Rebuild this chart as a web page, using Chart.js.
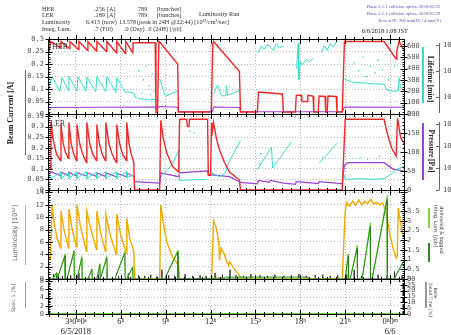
<!DOCTYPE html>
<html><head><meta charset="utf-8">
<script src="https://cdn.jsdelivr.net/npm/chart.js@4.4.1/dist/chart.umd.min.js"></script>
<style>
html,body{margin:0;padding:0;background:#fff;}
#wrap{position:relative;width:451px;height:335px;overflow:hidden;}
#c{position:absolute;left:0;top:0;}
.t{position:absolute;white-space:nowrap;font-family:'Liberation Serif','Times New Roman',serif;color:#333;line-height:1;font-size:6.2px;}
.rl{transform:translate(-50%,-50%) rotate(-90deg);}
.rr{transform:translate(-50%,-50%) rotate(90deg);}
.bar{position:absolute;width:1.5px;}
</style></head>
<body><div id="wrap"><canvas id="c" width="451" height="335"></canvas>
<div class="t" style="left:42px;top:6px">HER</div>
<div class="t" style="left:94px;top:6px">.256</div>
<div class="t" style="left:107px;top:6px">[A]</div>
<div class="t" style="left:138px;top:6px">789</div>
<div class="t" style="left:157px;top:6px">[bunches]</div>
<div class="t" style="left:42px;top:12px">LER</div>
<div class="t" style="left:94px;top:12px">.189</div>
<div class="t" style="left:107px;top:12px">[A]</div>
<div class="t" style="left:138px;top:12px">789</div>
<div class="t" style="left:157px;top:12px">[bunches]</div>
<div class="t" style="left:199px;top:11px">Luminosity Run</div>
<div class="t" style="left:42px;top:19px">Luminosity</div>
<div class="t" style="left:86px;top:19px">6.413</div>
<div class="t" style="left:102px;top:19px">(now)</div>
<div class="t" style="left:119px;top:19px">13.578</div>
<div class="t" style="left:137px;top:19px">(peak in 24H @22:44) [10³²/cm²/sec]</div>
<div class="t" style="left:42px;top:26px">Integ. Lum.</div>
<div class="t" style="left:94px;top:26px">.7 (Fill)</div>
<div class="t" style="left:124px;top:26px">.0 (Day)</div>
<div class="t" style="left:147px;top:26px">.0 (24H) [/pb]</div>
<div class="t" style="right:11px;top:5px;font-size:4.6px;color:#5a50b0">Phase 2.1.1 collision optics: 2018/05/22</div>
<div class="t" style="right:11px;top:12px;font-size:4.6px;color:#5a50b0">Phase 2.1.2 collision optics: 2018/05/29</div>
<div class="t" style="right:10px;top:19px;font-size:4.6px;color:#5a50b0">Beta at IP: 200 mm(H) / 4 mm(V)</div>
<div class="t" style="left:362px;top:28px;color:#111">6/6/2018 1:08 JST</div>
<div class="t" style="left:52px;top:43px;font-size:8px;color:#333">HER</div>
<div class="t" style="left:50px;top:120px;font-size:8px;color:#333">LER</div>
<div class="t rl" style="left:11px;top:113px;font-size:8px;font-weight:bold;color:#222">Beam Current [A]</div>
<div class="bar" style="left:24.5px;top:70px;height:85px;background:#f03030"></div>
<div class="t rl" style="left:15px;top:233px;font-size:6.5px;font-family:'DejaVu Sans',sans-serif;color:#666">Luminosity [10³²]</div>
<div class="bar" style="left:24.5px;top:205px;height:60px;background:#f2a900"></div>
<div class="t rl" style="left:13px;top:298px;font-size:5px;font-family:'DejaVu Sans',sans-serif;color:#666">Spec. L [%]</div>
<div class="bar" style="left:24.5px;top:282px;height:26px;background:#66d040"></div>
<div class="bar" style="left:422px;top:47px;height:56px;background:#33e0c8"></div>
<div class="t rr" style="left:430px;top:79px;font-size:7.5px;font-weight:bold;color:#222">Lifetime [min]</div>
<div class="bar" style="left:422px;top:123px;height:57px;background:#9a40d8"></div>
<div class="t rr" style="left:431px;top:151px;font-size:7.5px;font-weight:bold;color:#222">Pressure [Pa]</div>
<div class="bar" style="left:428px;top:208px;height:20px;background:#7bd84a"></div>
<div class="bar" style="left:428px;top:243px;height:19px;background:#2a8a1a"></div>
<div class="t rr" style="left:435px;top:226px;font-size:5px;font-family:'DejaVu Sans',sans-serif;color:#444">Integ. Lum. [/pb]</div>
<div class="t rr" style="left:440.5px;top:230px;font-size:5px;font-family:'DejaVu Sans',sans-serif;color:#444">delivered &amp; logged</div>
<div class="bar" style="left:425px;top:282px;height:26px;background:#999"></div>
<div class="t rr" style="left:434.5px;top:293px;font-size:4.5px;font-family:'DejaVu Sans',sans-serif;color:#444">Belle</div>
<div class="t rr" style="left:430px;top:300px;font-size:4.5px;font-family:'DejaVu Sans',sans-serif;color:#444">Dead Time [%]</div>
</div>
<script>
// ---- time axis (hours since 0:00 6/5/2018) ----
const xTickHours = [3, 6, 9, 12, 15, 18, 21, 24];
const xTickLabels = [['3ʰ0ᵐ0ˢ', '6/5/2018'], '6ʰ', '9ʰ', '12ʰ', '15ʰ', '18ʰ', '21ʰ', ['0ʰ0ᵐ', '6/6']];
const X_MIN = 1.133, X_MAX = 24.93;

// ---- HER beam current [A] ----
const herCurT = [1.13,1.30,1.33,1.97,2.00,2.57,2.60,3.17,3.20,3.77,3.80,4.37,4.40,5.03,5.07,5.70,5.73,6.30,6.33,6.80,6.83,8.30,8.35,8.45,8.55,8.65,9.80,9.85,12.05,12.15,12.20,13.93,14.00,15.13,15.20,16.80,16.87,17.67,17.73,18.07,18.10,18.45,18.50,18.85,18.90,19.20,19.25,19.65,19.70,19.80,19.85,20.40,20.45,20.80,20.95,23.60,24.40,24.45,24.60,24.93];
const herCurA = [0.225,0.285,0.29,0.265,0.29,0.262,0.29,0.258,0.29,0.255,0.29,0.252,0.29,0.25,0.29,0.245,0.29,0.242,0.29,0.245,0.285,0.285,0.005,0.005,0.29,0.285,0.2,0.008,0.008,0.28,0.29,0.17,0.008,0.008,0.088,0.08,0.008,0.008,0.075,0.075,0.05,0.05,0.075,0.072,0.008,0.008,0.072,0.07,0.008,0.008,0.072,0.07,0.008,0.008,0.29,0.29,0.22,0.255,0.29,0.255];
// ---- HER lifetime [min] ----
const herLifeT = [1.13,1.40,1.93,2.07,2.50,2.53,3.07,3.13,3.67,3.73,4.33,4.40,5.00,5.07,5.67,5.73,6.33,6.40,6.87,6.93,7.20,7.60,7.90,8.30,8.40,8.60,8.93,9.07,9.80,9.90,12.20,12.47,12.73,13.00,13.07,13.13,13.93,14.00,15.20,15.40,15.60,15.80,16.00,16.20,16.40,16.60,16.87,16.95,17.75,17.85,17.90,18.00,18.13,18.40,18.60,18.87,19.00,19.40,19.60,19.80,20.00,20.20,20.45,20.60,20.93,21.10,21.50,22.00,22.50,23.00,23.60,23.80,24.20,24.55,24.60,24.70,24.93];
const herLifeM = [200,330,200,320,205,330,200,330,200,325,195,330,195,330,190,320,185,195,185,150,135,130,125,130,null,310,170,160,205,null,180,255,160,160,250,165,205,null,540,600,570,610,590,560,620,580,600,null,400,620,300,460,430,480,460,490,null,540,600,560,620,590,640,null,310,300,280,275,270,265,262,210,200,205,320,230,205];
const herDotT = [7.2,7.4,7.5,7.7,7.9,8.0,8.1,8.2,21.6,21.9,22.2,22.4,22.7,23.0,23.2,23.5,23.9,24.3];
const herDotM = [380,180,300,420,250,170,350,200,450,380,500,330,420,360,470,390,300,420];
// ---- HER purple trace ----
const herPurT = [1.13,8.30,8.40,8.60,9.80,9.87,12.10,12.20,13.93,14.00,20.80,20.95,24.93];
const herPurV = [0.026,0.028,0.022,0.03,0.027,0.009,0.009,0.028,0.026,0.009,0.009,0.028,0.027];

// ---- LER beam current [A] ----
const lerCurT = [1.13,1.30,1.33,1.50,1.70,1.97,2.00,2.15,2.30,2.50,2.53,2.68,2.85,3.03,3.07,3.25,3.45,3.70,3.73,3.92,4.12,4.37,4.40,4.57,4.75,4.97,5.00,5.20,5.42,5.70,5.73,5.92,6.12,6.37,6.40,6.55,6.70,6.87,6.92,8.60,8.67,8.85,9.07,9.47,9.87,9.93,10.40,10.45,10.55,10.60,11.80,11.85,12.00,12.07,12.13,12.20,12.40,12.60,12.93,13.27,13.93,14.00,20.80,21.00,23.60,23.80,24.10,24.40,24.50,24.70,24.93];
const lerCurA = [0.10,0.10,0.32,0.23,0.17,0.14,0.31,0.22,0.18,0.15,0.32,0.22,0.17,0.14,0.31,0.22,0.17,0.13,0.32,0.22,0.17,0.14,0.31,0.22,0.17,0.14,0.32,0.22,0.17,0.13,0.31,0.22,0.17,0.14,0.32,0.22,0.17,0.13,0.0,0.0,0.33,0.24,0.175,0.11,0.085,0.335,0.335,0.30,0.30,0.335,0.335,0.07,0.07,0.32,0.28,0.32,0.24,0.19,0.13,0.085,0.047,0.0,0.0,0.335,0.335,0.27,0.20,0.16,0.34,0.25,0.22];
// ---- LER cyan trace ----
const lerLifeT = [1.13,1.33,1.97,2.00,2.50,2.53,3.03,3.07,3.70,3.73,4.37,4.40,4.97,5.00,5.70,5.73,6.37,6.40,6.87,6.93,8.67,9.07,9.47,9.87,9.93,11.80,11.85,12.07,12.60,13.00,13.07,14.00,14.05,15.13,16.07,16.15,17.40,17.45,19.27,20.47,20.55,20.93,21.00,22.00,23.00,23.60,24.00,24.50,24.93];
const lerLifeV = [50,30,46,30,46,30,47,30,48,30,47,30,48,30,48,30,48,32,40,null,35,50,70,105,25,28,null,45,35,45,60,131,null,53,113,58,126,null,71,124,null,40,28,30,28,30,40,55,62];
const lerDotT = [10.6,10.9,15.3,15.35,22.0,22.5,23.3];
const lerDotV = [155,150,70,95,85,80,88];
// ---- LER pressure [Pa] ----
const lerPresT = [1.13,1.33,1.97,2.00,2.50,2.53,3.03,3.07,3.70,3.73,4.37,4.40,4.97,5.00,5.70,5.73,6.37,6.40,6.87,6.93,8.60,8.67,9.87,9.93,11.80,11.85,12.07,13.27,13.93,14.00,15.13,15.20,15.90,16.00,16.87,17.67,17.73,18.87,19.20,19.25,20.40,20.80,20.95,21.20,23.60,24.20,24.93];
const lerPresV = [40,48,38,47,38,47,37,46,37,46,36,45,36,45,35,44,35,44,36,22,18,45,35,45,50,40,40,35,22,20,16,25,20,25,18,15,22,18,17,22,18,17,65,72,72,55,50];

// ---- Luminosity [1e32] ----
const lumT = [1.13,1.30,1.40,1.55,1.75,1.97,2.00,2.20,2.50,2.53,2.75,3.03,3.07,3.30,3.70,3.73,4.00,4.37,4.40,4.65,4.97,5.00,5.30,5.70,5.73,6.00,6.37,6.40,6.60,6.87,6.93,8.60,8.67,8.85,9.07,9.47,9.87,9.93,12.07,12.20,12.35,12.55,12.60,12.70,12.93,13.07,13.20,13.27,13.60,13.93,14.00,20.80,21.00,21.07,21.10,21.30,21.50,21.70,21.90,22.10,22.30,22.50,22.70,22.90,23.10,23.30,23.50,23.60,23.80,24.00,24.20,24.40,24.47,24.55,24.70,24.93];
const lumV = [3.5,3.2,12,9,6.5,5.0,11,8,5.0,11.3,8,5.2,12,8.5,4.5,11,8,4.8,11,7.5,4.5,10.5,7,4,10.5,7,4.2,9.8,6.5,4.5,0,0,12,9,6,3.5,2.2,0,0,9.5,8.5,6,3,5,4.0,2.8,2.2,2.8,1.6,0.6,0,0,11,12,12.3,11.8,12.6,11.9,12.8,12.0,12.5,12.2,12.9,12.1,12.4,12.0,12.3,11.7,10,7,5,3.4,3.6,11.5,9,6.6];
// ---- small gray spikes on luminosity baseline ----
const spikeT = [1.5,2.1,2.65,3.2,3.85,4.5,5.1,5.85,6.5,7.2,7.6,8.0,8.4,8.75,9.2,9.6,10.3,10.8,11.3,11.7,12.3,12.8,13.3,13.7,14.2,14.7,15.3,15.8,16.3,16.9,17.4,17.9,18.4,19.0,19.5,20.0,20.5,21.1,21.6,22.1,22.7,23.2,23.8,24.3,24.8];
const spikeH = [0.8,0.5,0.6,1.0,0.4,0.7,1.2,0.5,0.9,0.6,0.5,0.7,0.4,1.5,0.6,0.5,0.8,0.5,0.6,0.5,1.0,0.7,1.5,0.6,0.5,0.8,0.6,0.5,0.7,0.5,0.6,0.8,0.5,0.6,0.7,0.5,0.6,0.8,1.5,0.5,1.0,0.7,0.6,1.2,0.6];
// ---- delivered & logged integrated luminosity [/pb] ----
const logT = [1.13,1.47,1.70,1.72,1.75,2.27,2.29,2.40,2.87,2.89,3.07,3.40,3.42,3.80,4.07,4.09,4.40,4.60,4.62,5.07,5.09,5.60,6.27,6.29,6.40,6.80,6.82,8.93,9.80,9.82,12.90,13.00,18.50,18.60,21.00,21.20,21.22,21.33,21.80,21.82,22.13,22.67,22.69,22.80,23.80,23.82,24.27,24.93];
const logV = [0,0,0.3,0,0,1.2,0,0,1.4,0,0,1.1,0,0,0.5,0,0,0.75,0,1.1,0,0,1.35,0,0,0.6,0,0,1.4,0,0.05,0.1,0.1,0,0,1.2,0,0,1.6,0,0,2.7,0,0,4.1,0,0,0.95];
// ---- integrated luminosity [/pb] ----
const intT = [1.13,1.47,1.70,1.72,1.75,2.27,2.29,2.40,2.87,2.89,3.07,3.40,3.42,3.80,4.07,4.09,4.40,4.60,4.62,5.07,5.09,5.60,6.27,6.29,6.40,6.80,6.82,8.93,9.80,9.82,21.00,21.20,21.22,21.33,21.80,21.82,22.13,22.67,22.69,22.80,23.80,23.82,24.27,24.93];
const intV = [0,0,0.35,0,0,1.3,0,0,1.5,0,0,1.2,0,0,0.55,0,0,0.8,0,1.2,0,0,1.45,0,0,0.65,0,0,1.5,0,0,1.3,0,0,1.75,0,0,2.9,0,0,4.3,0,0,1.0];
// ---- specific luminosity [%] ----
const specT = [1.13, 24.93];
const specV = [0, 0];

const pts = (T, V) => T.map((t, i) => ({x: t, y: V[i]}));
const spikePts = (() => {
  const out = [{x: X_MIN, y: 0}];
  spikeT.forEach((t, i) => { out.push({x: t, y: 0}, {x: t, y: spikeH[i]}, {x: t, y: 0}); });
  out.push({x: X_MAX, y: 0});
  return out;
})();

const RED = '#f02828', CYAN = '#33e0c8', PURPLE = '#9a40d8', ORANGE = '#f2a900', DKGREEN = '#2a8a1a', LTGREEN = '#7bd84a';
const line = (data, y, color, w) => ({data, yAxisID: y, xAxisID: 'x', borderColor: color, borderWidth: w, pointRadius: 0, fill: false, spanGaps: false});
const dots = (data, y, color) => ({data, yAxisID: y, xAxisID: 'x', showLine: false, pointRadius: 0.8, pointBorderWidth: 0, pointBackgroundColor: color, borderColor: color});

const datasets = [
  line(pts(herCurT, herCurA), 'yHer', RED, 1.4),
  line(pts(herLifeT, herLifeM), 'yHerR', CYAN, 1),
  dots(pts(herDotT, herDotM), 'yHerR', CYAN),
  line(pts(herPurT, herPurV), 'yHer', PURPLE, 1.2),
  line(pts(lerCurT, lerCurA), 'yLer', RED, 1.4),
  line(pts(lerLifeT, lerLifeV), 'yLerR', CYAN, 1),
  dots(pts(lerDotT, lerDotV), 'yLerR', CYAN),
  line(pts(lerPresT, lerPresV), 'yLerR', PURPLE, 1.2),
  line(pts(logT, logV), 'yLumR', DKGREEN, 1),
  line(pts(intT, intV), 'yLumR', LTGREEN, 1),
  line(pts(lumT, lumV), 'yLum', ORANGE, 1.4),
  line(spikePts, 'yLum', '#333', 1),
  line(pts(specT, specV), 'ySpec', '#66d040', 2)
];

const fmt = v => String(Math.round(v * 1000) / 1000);
function yScale(pos, stackWeight, weight, min, max, step, drawGrid, hideAbove) {
  return {
    type: 'linear', position: pos, stack: pos === 'left' ? 'L' : 'R', stackWeight, weight, min, max,
    afterFit: s => { s.width = pos === 'left' ? 48 : 47; },
    grid: {display: true, drawOnChartArea: drawGrid, drawTicks: false, color: '#b8b8b8', lineWidth: 1},
    border: {display: true, color: '#000', dash: [1, 2]},
    ticks: {stepSize: step, includeBounds: false, autoSkip: false, padding: pos === 'left' ? 4 : 3,
      color: '#555', font: {family: "'DejaVu Sans Mono', monospace", size: 7},
      callback: v => (hideAbove !== undefined && v > hideAbove + 1e-9) ? '' : fmt(v)}
  };
}

const framePlugin = {
  id: 'frame',
  afterDraw(chart) {
    const {ctx, chartArea: a, scales: s} = chart;
    const xs = s.x;
    ctx.save();
    ctx.strokeStyle = '#000';
    ctx.lineWidth = 1;
    const ys = [s.yHer.top, s.yLer.top, s.yLum.top, s.ySpec.top, s.ySpec.bottom];
    ctx.beginPath();
    ys.forEach(y => { const yy = Math.round(y) + 0.5; ctx.moveTo(a.left, yy); ctx.lineTo(a.right, yy); });
    const lx = Math.round(a.left) + 0.5, rx = Math.round(a.right) + 0.5;
    ctx.moveTo(lx, a.top); ctx.lineTo(lx, a.bottom);
    ctx.moveTo(rx, a.top); ctx.lineTo(rx, a.bottom);
    for (let k = -5; k <= 45; k++) {
      const t = 3 + k * 0.6;
      if (t <= xs.min || t >= xs.max) continue;
      const px = Math.round(xs.getPixelForValue(t)) + 0.5;
      const L = (k % 5 === 0) ? 4 : 2;
      ys.forEach(y => { ctx.moveTo(px, Math.round(y) - L); ctx.lineTo(px, Math.round(y) + L + 1); });
    }
    const yTicks = (sc, x0, dir) => {
      const tk = sc.ticks;
      if (tk.length < 2) return;
      const step = tk[1].value - tk[0].value;
      tk.forEach(t => {
        const py = Math.round(sc.getPixelForValue(t.value)) + 0.5;
        ctx.moveTo(x0 - 3 * dir, py); ctx.lineTo(x0 + 4 * dir, py);
        for (let j = 1; j < 5; j++) {
          const v = t.value + j * step / 5;
          if (v >= sc.max) break;
          const my = Math.round(sc.getPixelForValue(v)) + 0.5;
          ctx.moveTo(x0, my); ctx.lineTo(x0 + 2 * dir, my);
        }
      });
    };
    ['yHer', 'yLer', 'yLum', 'ySpec'].forEach(id => yTicks(s[id], lx, 1));
    ['yHerR', 'yLerR', 'yLumR', 'ySpecR'].forEach(id => yTicks(s[id], rx, -1));
    ctx.stroke();
    // outer logarithmic axes (lifetime / pressure)
    ctx.strokeStyle = '#666';
    ctx.fillStyle = '#555';
    ctx.font = "7px 'DejaVu Sans Mono', monospace";
    ctx.textBaseline = 'middle';
    const logAx = [[s.yHer, 4, 1, [6, 32, 58]], [s.yLer, 8, 0, [10, 32, 54, 76]]];
    ctx.beginPath();
    logAx.forEach(([sc, t0, b0, offs]) => {
      ctx.moveTo(439.5, sc.top + t0); ctx.lineTo(439.5, sc.bottom - b0);
      offs.forEach(o => { const y = Math.round(sc.top + o) + 0.5; ctx.moveTo(436, y); ctx.lineTo(439.5, y); });
    });
    ctx.stroke();
    logAx.forEach(([sc, t0, b0, offs]) => offs.forEach(o => ctx.fillText('10', 443, sc.top + o)));
    ctx.restore();
  }
};

new Chart(document.getElementById('c'), {
  type: 'line',
  data: {datasets},
  plugins: [framePlugin],
  options: {
    responsive: false, animation: false, devicePixelRatio: 1,
    layout: {padding: {top: 39, left: 0, right: 0, bottom: 0}},
    plugins: {legend: {display: false}, tooltip: {enabled: false}},
    elements: {line: {tension: 0}},
    scales: {
      x: {
        type: 'linear', position: 'bottom', min: X_MIN, max: X_MAX,
        afterBuildTicks: sc => { sc.ticks = xTickHours.map(v => ({value: v})); },
        afterFit: sc => { sc.height = 21; },
        grid: {color: '#b8b8b8', lineWidth: 1, drawTicks: false},
        border: {display: false, dash: [1, 2]},
        ticks: {autoSkip: false, maxRotation: 0, minRotation: 0, padding: 3, color: '#222',
          font: {family: "'Liberation Serif', serif", size: 8.5, lineHeight: 1.15},
          callback: v => { const i = xTickHours.indexOf(v); return i >= 0 ? xTickLabels[i] : ''; }}
      },
      yHer: yScale('left', 75, 4, 0, 0.3, 0.05, true),
      yLer: yScale('left', 76, 3, 0, 0.36, 0.05, true),
      yLum: yScale('left', 89, 2, 0, 14.4, 2, true),
      ySpec: yScale('left', 35, 1, 0, 8.5, 2, true),
      yHerR: yScale('right', 75, 1, 0, 660, 100, false),
      yLerR: yScale('right', 76, 2, 0, 200, 50, false),
      yLumR: yScale('right', 89, 3, 0, 4.6, 0.5, false, 3.5),
      ySpecR: yScale('right', 35, 4, 0, 30, 5, false)
    }
  }
});
</script>
</body></html>
